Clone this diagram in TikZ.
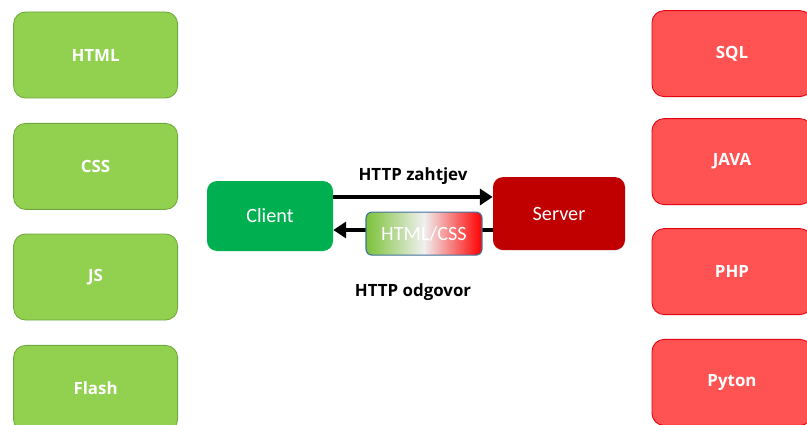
\documentclass[tikz,border=0pt]{standalone}
\usepackage{fontspec}
\setmainfont{Open Sans}
\newfontfamily\calfont{Carlito}
\usepackage{tikz}
\usetikzlibrary{arrows.meta}
\usetikzlibrary{positioning}

\definecolor{lightgreen}{HTML}{92D050}
\definecolor{lightgreenline}{HTML}{6FA83C}
\definecolor{lightred}{HTML}{FF5252}
\definecolor{lightredline}{HTML}{E3000F}
\definecolor{clientgreen}{HTML}{00B050}
\definecolor{serverred}{HTML}{C00000}
\definecolor{boxline}{HTML}{41719C}
\definecolor{fadegreen}{HTML}{7CC23A}

\begin{document}
\begin{tikzpicture}[>={Triangle[length=3.2mm,width=4mm]}]
    \tikzstyle{tech}=[rectangle, rounded corners=3mm, draw, line width=0.6pt,
        minimum height=2.15cm, text=white, font=\bfseries\large]
    \tikzstyle{client tech}=[tech, fill=lightgreen, draw=lightgreenline, minimum width=4.1cm]
    \tikzstyle{server tech}=[tech, fill=lightred, draw=lightredline, minimum width=4cm]
    \tikzstyle{side}=[rectangle, rounded corners=2.5mm, text=white, font=\calfont\Large]
    \tikzstyle{flow}=[->, line width=1.2mm]
    %\draw[help lines] (0,0) grid (20,-11);
    \useasboundingbox (0,0) rectangle (20.175,-10.625);

    % front end
    \node[client tech] (html)  at (2.39,-1.375) {HTML};
    \node[client tech] (css)   at (2.39,-4.16)  {CSS};
    \node[client tech] (js)    at (2.39,-6.925) {JS};
    \node[client tech] (flash) at (2.39,-9.71)  {Flash};

    % back end
    \node[server tech] (sql)   at (18.3,-1.34) {SQL};
    \node[server tech] (java)  at (18.3,-4.04) {JAVA};
    \node[server tech] (php)   at (18.3,-6.79) {PHP};
    \node[server tech] (pyton) at (18.3,-9.56) {Pyton};

    \node[side, fill=clientgreen, minimum width=3.15cm, minimum height=1.75cm] (client) at (6.75,-5.4) {Client};
    \node[side, fill=serverred, minimum width=3.3cm, minimum height=1.825cm] (server) at (13.975,-5.34) {Server};

    \draw[flow] ([yshift=4.75mm]client.east) -- ([yshift=4.75mm]client.east -| server.west);
    \draw[flow] ([yshift=-4.1mm]server.west) -- ([yshift=-4.1mm]server.west -| client.east);

    \node[rectangle, rounded corners=1.5mm, draw=boxline, line width=0.8pt,
        left color=fadegreen, right color=red, middle color=white!88!gray,
        minimum width=2.9cm, minimum height=1.075cm, text=white, font=\calfont\Large]
        (payload) at (10.6,-5.84) {HTML/CSS};

    \node[font=\bfseries\large] (request) at (10.325,-4.4) {HTTP zahtjev};
    \node[font=\bfseries\large] (response) at (10.325,-7.3) {HTTP odgovor};
\end{tikzpicture}
\end{document}
